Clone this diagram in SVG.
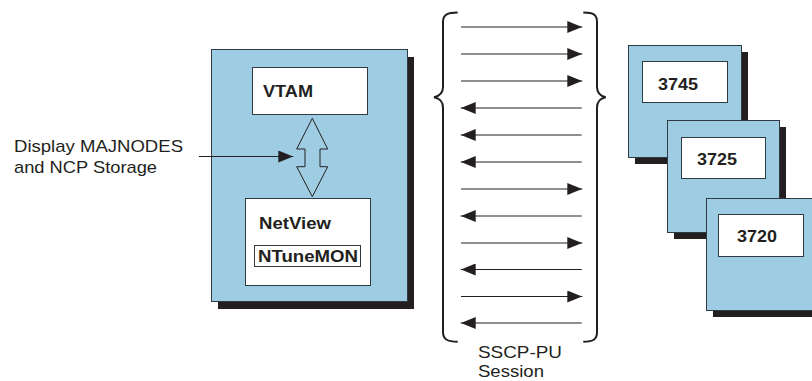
<svg xmlns="http://www.w3.org/2000/svg" width="812" height="381" viewBox="0 0 812 381">
<defs>
<style>
.shadow{fill:#231f20}
.box{fill:#9ecde3;stroke:#2f3a42;stroke-width:1}
.inner{fill:#ffffff;stroke:#2f3a42;stroke-width:1}
.bl{font-family:"Liberation Sans",Arial,sans-serif;font-weight:bold;font-size:17px;fill:#231f20}
.lbl{font-family:"Liberation Sans",Arial,sans-serif;font-size:17px;fill:#231f20}
.ln{stroke:#231f20;stroke-width:1.2;fill:none}
.brace{stroke:#231f20;stroke-width:2;fill:none}
</style>
<marker id="ah" viewBox="0 0 15 12" refX="15" refY="6" markerWidth="15" markerHeight="12" markerUnits="userSpaceOnUse" orient="auto">
<path d="M0,0 L15,6 L0,12 Z" fill="#231f20"/>
</marker>
</defs>

<g id="host">
<rect class="shadow" x="218" y="57" width="196" height="252"/>
<rect class="box" x="211.5" y="49.5" width="196" height="252"/>
</g>
<g id="vtam">
<rect class="inner" x="252.5" y="67.5" width="115" height="47"/>
<text class="bl" x="263" y="97" textLength="50" lengthAdjust="spacingAndGlyphs">VTAM</text>
</g>
<g id="netview">
<rect class="inner" x="245.5" y="198.5" width="125" height="87"/>
<text class="bl" x="259" y="228.5" textLength="72" lengthAdjust="spacingAndGlyphs">NetView</text>
</g>
<g id="ntunemon">
<rect class="inner" x="254.5" y="245.5" width="106" height="21"/>
<text class="bl" x="258" y="262" textLength="100" lengthAdjust="spacingAndGlyphs">NTuneMON</text>
</g>

<g id="ncp3745">
<rect class="shadow" x="635" y="52" width="113" height="112"/>
<rect class="box" x="628.5" y="45.5" width="113" height="112"/>
<rect class="inner" x="642.5" y="61.5" width="85" height="41"/>
<text class="bl" x="658" y="89.5" textLength="40" lengthAdjust="spacingAndGlyphs">3745</text>
</g>
<g id="ncp3725">
<rect class="shadow" x="674" y="127" width="112" height="112"/>
<rect class="box" x="667.5" y="120.5" width="112" height="112"/>
<rect class="inner" x="681.5" y="137.5" width="84" height="41"/>
<text class="bl" x="697" y="164.5" textLength="40" lengthAdjust="spacingAndGlyphs">3725</text>
</g>
<g id="ncp3720">
<rect class="shadow" x="713" y="205" width="112" height="112"/>
<rect class="box" x="706.5" y="198.5" width="112" height="112"/>
<rect class="inner" x="718.5" y="214.5" width="85" height="42"/>
<text class="bl" x="737" y="242" textLength="40" lengthAdjust="spacingAndGlyphs">3720</text>
</g>

<g id="display-label">
<text class="lbl" x="14" y="152" textLength="169" lengthAdjust="spacingAndGlyphs">Display MAJNODES</text>
<text class="lbl" x="14" y="173" textLength="143" lengthAdjust="spacingAndGlyphs">and NCP Storage</text>
</g>
<g id="session-label">
<text class="lbl" x="478" y="358" textLength="84" lengthAdjust="spacingAndGlyphs">SSCP-PU</text>
<text class="lbl" x="478" y="377" textLength="66" lengthAdjust="spacingAndGlyphs">Session</text>
</g>

<g id="connectors">
<polygon points="312.3,118.3 327.7,149 320,149 320,166.7 327.7,166.7 312.3,196.7 296.7,166.7 305,166.7 305,149 296.7,149" fill="#9ecde3" stroke="#231f20" stroke-width="1"/>
<line class="ln" x1="199" y1="156.5" x2="293.3" y2="156.5" marker-end="url(#ah)"/>

<path class="brace" d="M457.7,12.5 C447,12.5 443,15 443,22 L443,87 C443,93 440,96 434,97.3 C440,98.5 443,101 443,108 L443,332 C443,339 447,341.7 457.7,341.7"/>
<path class="brace" d="M583.3,12.5 C594,12.5 597,15 597,22 L597,87 C597,93 600,96 605.7,97.3 C600,98.5 597,101 597,108 L597,332 C597,339 594,341.7 583.3,341.7"/>

<line class="ln" x1="461" y1="27" x2="582.3" y2="27" marker-end="url(#ah)"/>
<line class="ln" x1="461" y1="54" x2="582.3" y2="54" marker-end="url(#ah)"/>
<line class="ln" x1="461" y1="81" x2="582.3" y2="81" marker-end="url(#ah)"/>
<line class="ln" x1="581.7" y1="108" x2="460.7" y2="108" marker-end="url(#ah)"/>
<line class="ln" x1="581.7" y1="135" x2="460.7" y2="135" marker-end="url(#ah)"/>
<line class="ln" x1="581.7" y1="162" x2="460.7" y2="162" marker-end="url(#ah)"/>
<line class="ln" x1="461" y1="189" x2="582.3" y2="189" marker-end="url(#ah)"/>
<line class="ln" x1="581.7" y1="216" x2="460.7" y2="216" marker-end="url(#ah)"/>
<line class="ln" x1="461" y1="243" x2="582.3" y2="243" marker-end="url(#ah)"/>
<line class="ln" x1="581.7" y1="269.5" x2="460.7" y2="269.5" marker-end="url(#ah)"/>
<line class="ln" x1="461" y1="296.5" x2="582.3" y2="296.5" marker-end="url(#ah)"/>
<line class="ln" x1="581.7" y1="323" x2="460.7" y2="323" marker-end="url(#ah)"/>
</g>
</svg>
